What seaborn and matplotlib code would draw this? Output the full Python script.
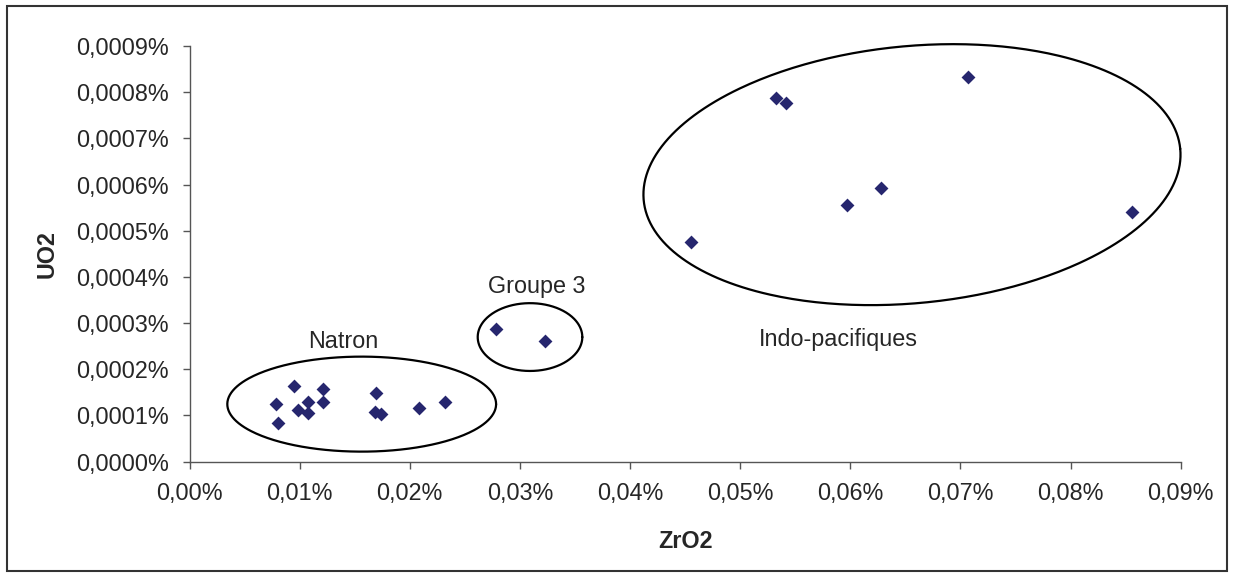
import numpy as np
import pandas as pd
import matplotlib
matplotlib.use("Agg")
import matplotlib.pyplot as plt
from matplotlib.ticker import FuncFormatter, MultipleLocator
from matplotlib.patches import Rectangle
import seaborn as sns

# teneurs en %
zro2 = [0.00949, 0.00785, 0.00801, 0.00988, 0.01073, 0.01079, 0.01212, 0.01212,
        0.01691, 0.01687, 0.01742, 0.02084, 0.02323,
        0.02783, 0.03228,
        0.05323, 0.05414, 0.06282, 0.05973, 0.04556, 0.07069, 0.08555]
uo2 = [0.0001644, 0.0001241, 0.0000829, 0.0001117, 0.0001284, 0.0001059, 0.0001566, 0.0001284,
       0.0001479, 0.0001080, 0.0001030, 0.0001154, 0.0001284,
       0.0002868, 0.0002620,
       0.0007885, 0.0007761, 0.0005926, 0.0005564, 0.0004746, 0.0008334, 0.0005397]

# groupes entourés : nom, centre (données), demi-axes (px), angle (deg), position du texte
group_names = ["Natron", "Groupe 3", "Indo-pacifiques"]
group_centers = [(0.015636, 0.0001243), (0.030918, 0.0002696), (0.06560, 0.0006215)]
group_axes_px = [(134.4, 47.5), (52.3, 33.9), (269.5, 128.5)]
group_angles = [0, 0, 5.5]
label_pos = [(0.01394, 0.0002465), (0.03155, 0.0003645), (0.05888, 0.0002500)]

df = pd.DataFrame({"ZrO2": zro2, "UO2": uo2})

sns.set_style("white")
plt.rcParams["font.family"] = ["Liberation Sans", "DejaVu Sans"]

W, H, DPI = 1234, 577, 100
fig = plt.figure(figsize=(W / DPI, H / DPI), dpi=DPI)
ax_l, ax_b = 189.5 / W, (H - 461.5) / H
ax_w, ax_h = 991.2 / W, 415.4 / H
ax = fig.add_axes([ax_l, ax_b, ax_w, ax_h])

navy = "#26266e"
txt = "#262626"

sns.scatterplot(data=df, x="ZrO2", y="UO2", marker="D", s=50, color=navy,
                linewidth=0, ax=ax, zorder=3)

ax.set_xlim(0, 0.09)
ax.set_ylim(0, 0.0009)
ax.xaxis.set_major_locator(MultipleLocator(0.01))
ax.yaxis.set_major_locator(MultipleLocator(0.0001))
ax.xaxis.set_major_formatter(FuncFormatter(lambda v, p: f"{v:.2f}%".replace(".", ",")))
ax.yaxis.set_major_formatter(FuncFormatter(lambda v, p: f"{v:.4f}%".replace(".", ",")))

fs = 16.8
ax.tick_params(axis="both", direction="out", length=5, width=1, color="#555555",
               labelsize=fs, labelcolor=txt)
ax.tick_params(axis="x", pad=10, bottom=True)
ax.tick_params(axis="y", pad=10, left=True)
for side in ["top", "right"]:
    ax.spines[side].set_visible(False)
for side in ["left", "bottom"]:
    ax.spines[side].set_color("#555555")
    ax.spines[side].set_linewidth(1)

ax.set_xlabel("ZrO2", fontsize=fs, fontweight="bold", color=txt, labelpad=18)
ax.set_ylabel("UO2", fontsize=fs, fontweight="bold", color=txt, labelpad=12)

# ellipses (demi-axes en pixels, convertis en unités de données)
xppu = ax_w * W / 0.09
yppu = ax_h * H / 0.0009
t = np.linspace(0, 2 * np.pi, 400)
for (cx, cy), (a, b), ang in zip(group_centers, group_axes_px, group_angles):
    th = np.deg2rad(ang)
    px = a * np.cos(t) * np.cos(th) - b * np.sin(t) * np.sin(th)
    py = a * np.cos(t) * np.sin(th) + b * np.sin(t) * np.cos(th)
    ax.plot(cx + px / xppu, cy + py / yppu, color="black", lw=1.6, zorder=2,
            clip_on=False)

for name, (lx, ly) in zip(group_names, label_pos):
    ax.text(lx, ly, name, fontsize=fs, color=txt, ha="center", va="baseline")

# cadre extérieur
fig.patches.append(Rectangle((7 / W, 1 - 571 / H), 1220 / W, 565 / H,
                             transform=fig.transFigure, fill=False,
                             edgecolor="#333333", lw=1.5))

fig.savefig("out.png", dpi=DPI)
